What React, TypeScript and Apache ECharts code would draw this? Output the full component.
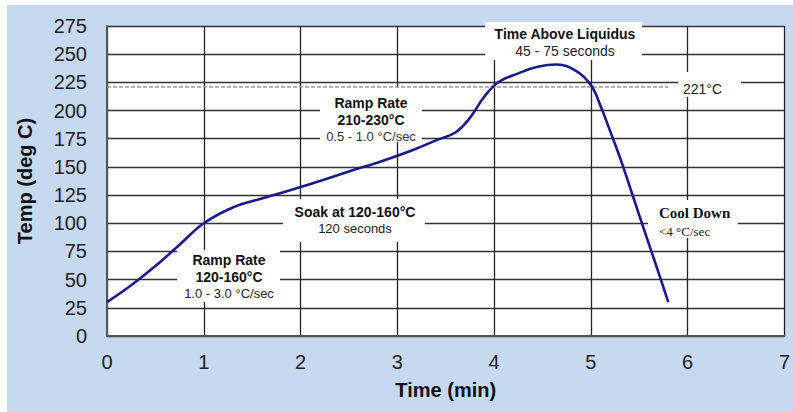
import React, { useEffect, useRef } from "react";
import * as echarts from "echarts";

const timeMin = [0, 0.25, 0.5, 0.75, 1.0, 1.3, 1.6, 1.9, 2.2, 2.5, 2.8, 3.1, 3.4, 3.6, 3.75, 3.9, 4.05, 4.25, 4.45, 4.65, 4.85, 5.0, 5.1, 5.2, 5.3, 5.4, 5.5, 5.6, 5.7, 5.8];
const tempC = [30, 45, 62, 81, 100, 114, 122, 129.5, 137.5, 146, 154, 163, 173.5, 180.5, 193.5, 212.5, 225.5, 233, 238.8, 240.8, 235, 222.6, 204, 181.5, 158.5, 133, 107, 81.5, 56, 30];
const yTicks = { min: 0, max: 275, interval: 25 };
const xTicks = { min: 0, max: 7, interval: 1 };
const liquidusTemp = 221;
const liquidusEndTime = 5.8;

const SANS = "'Liberation Sans', Arial, sans-serif";
const SERIF = "'Liberation Serif', 'Times New Roman', serif";

function box(x: number, y: number, w: number, h: number) {
  return { type: "rect", z: 1, shape: { x, y, width: w, height: h }, style: { fill: "#fff" }, silent: true };
}
function txt(text: string, x: number, y: number, opts: any = {}) {
  return {
    type: "text",
    z: 2,
    silent: true,
    style: {
      text,
      x,
      y,
      fill: opts.fill || "#111",
      fontSize: opts.size || 14,
      fontWeight: opts.bold ? "bold" : "normal",
      fontFamily: opts.family || SANS,
      align: opts.align || "center",
      verticalAlign: "middle",
    },
  };
}

export default function App() {
  const ref = useRef<HTMLDivElement>(null);
  useEffect(() => {
    if (!ref.current) return;
    const chart = echarts.init(ref.current, null, { renderer: "svg" });
    const data = timeMin.map((t, i) => [t, tempC[i]]);
    chart.setOption({
      animation: false,
      backgroundColor: "transparent",
      grid: { left: 107, right: 0, top: 26, bottom: 76, show: true, backgroundColor: "#fff", borderWidth: 0 },
      xAxis: {
        type: "value",
        min: xTicks.min,
        max: xTicks.max,
        interval: xTicks.interval,
        name: "Time (min)",
        nameLocation: "middle",
        nameGap: 44,
        nameTextStyle: { fontFamily: SANS, fontSize: 20, fontWeight: "bold", color: "#111" },
        axisLine: { show: true, lineStyle: { color: "#555", width: 2 } },
        axisTick: { show: false },
        axisLabel: { fontFamily: SANS, fontSize: 20, color: "#222", margin: 16 },
        splitLine: { show: true, lineStyle: { color: "#222", width: 1.3 } },
      },
      yAxis: {
        type: "value",
        min: yTicks.min,
        max: yTicks.max,
        interval: yTicks.interval,
        name: "Temp (deg C)",
        nameLocation: "middle",
        nameGap: 72,
        nameTextStyle: { fontFamily: SANS, fontSize: 20, fontWeight: "bold", color: "#111" },
        axisLine: { show: true, lineStyle: { color: "#555", width: 2 } },
        axisTick: { show: false },
        axisLabel: { fontFamily: SANS, fontSize: 20, color: "#222", margin: 20 },
        splitLine: { show: true, lineStyle: { color: "#333", width: 1.3 } },
      },
      series: [
        {
          type: "line",
          z: 10,
          data,
          smooth: 0.4,
          showSymbol: false,
          symbol: "none",
          lineStyle: { color: "#1a1a8c", width: 2.6 },
          markLine: {
            silent: true,
            symbol: "none",
            label: { show: false },
            lineStyle: { color: "#999", type: [4, 2], width: 1.6 },
            data: [[{ coord: [0, liquidusTemp] }, { coord: [liquidusEndTime, liquidusTemp] }]],
          },
        },
      ],
      graphic: [
        box(177, 250, 103, 52),
        txt("Ramp Rate", 229, 260, { bold: true }),
        txt("120-160°C", 229, 277, { bold: true }),
        txt("1.0 - 3.0 °C/sec", 229, 293, { size: 13, fill: "#222" }),

        box(283, 199, 142, 43),
        txt("Soak at 120-160°C", 355, 212, { bold: true }),
        txt("120 seconds", 355, 228, { size: 13, fill: "#222" }),

        box(320, 87, 102, 55),
        txt("Ramp Rate", 371, 103, { bold: true }),
        txt("210-230°C", 371, 120, { bold: true }),
        txt("0.5 - 1.0 °C/sec", 371, 136, { size: 13, fill: "#333" }),

        box(485, 22, 157, 38),
        txt("Time Above Liquidus", 565, 34, { bold: true }),
        txt("45 - 75 seconds", 565, 51, { size: 14, fill: "#222" }),

        box(678, 72, 63, 25),
        txt("221°C", 683, 89, { size: 14, align: "left", fill: "#222" }),

        box(648, 200, 90, 38),
        txt("Cool Down", 659, 213, { bold: true, size: 15, family: SERIF, align: "left" }),
        txt("<4 °C/sec", 659, 231, { size: 13, family: SERIF, align: "left", fill: "#222" }),
      ],
    });
    return () => chart.dispose();
  }, []);
  return (
    <div style={{ position: "fixed", left: 0, top: 0, width: 793, height: 412, background: "#fff", overflow: "hidden" }}>
      <div style={{ position: "absolute", left: 7, top: 5, right: 0, bottom: 0, background: "#c6d9f1" }} />
      <div ref={ref} style={{ position: "absolute", left: 0, top: 0, width: 793, height: 412 }} />
    </div>
  );
}
